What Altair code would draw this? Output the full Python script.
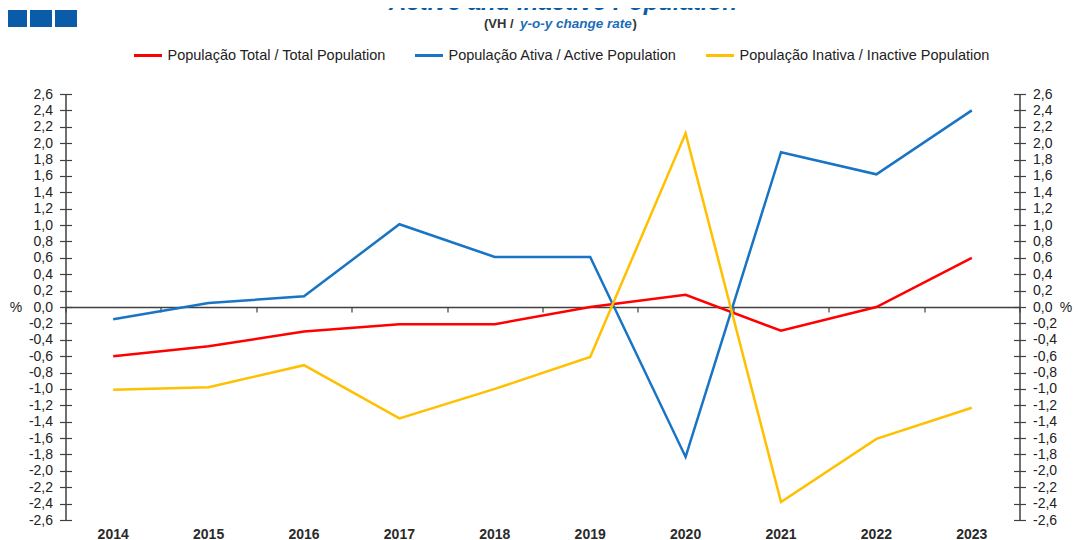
import altair as alt
import pandas as pd

# ---------------- data ----------------
years = ["2014", "2015", "2016", "2017", "2018", "2019", "2020", "2021", "2022", "2023"]
total_pop = [-0.60, -0.48, -0.30, -0.21, -0.21, 0.00, 0.15, -0.29, 0.00, 0.60]
active_pop = [-0.15, 0.05, 0.13, 1.01, 0.61, 0.61, -1.83, 1.89, 1.62, 2.40]
inactive_pop = [-1.01, -0.98, -0.71, -1.36, -1.00, -0.61, 2.12, -2.38, -1.61, -1.23]
series_names = [
    "População Total / Total Population",
    "População Ativa / Active Population",
    "População Inativa / Inactive Population",
]
series_colors = ["#ff0000", "#1874c4", "#ffc000"]
y_ticks = [2.6, 2.4, 2.2, 2.0, 1.8, 1.6, 1.4, 1.2, 1.0, 0.8, 0.6, 0.4, 0.2, 0.0,
           -0.2, -0.4, -0.6, -0.8, -1.0, -1.2, -1.4, -1.6, -1.8, -2.0, -2.2, -2.4, -2.6]
title_text = "Active and Inactive Population"
subtitle_parts = ["(VH /", "y-o-y change rate", ")"]

# ---------------- layout ----------------
W, H = 954, 426
PL, PT = 57.5, 86          # plot origin at page (65.5, 94)
FONT = "Liberation Sans"
AX = "#404040"
TXT = "#222222"
BLUE_T = "#0b5ca8"

rows = []
for name, vals in zip(series_names, [total_pop, active_pop, inactive_pop]):
    for yr, v in zip(years, vals):
        rows.append({"year": yr, "value": v, "series": name})
df = pd.DataFrame(rows)

label_expr = "replace(replace(format(datum.value, '.1f'), '.', ','), '\u2212', '-')"
x_scale = alt.Scale(type="band", domain=years, paddingInner=0, paddingOuter=0)
y_scale = alt.Scale(domain=[-2.6, 2.6], nice=False, zero=False)

TICK = 6
common_y = dict(values=y_ticks, grid=False, tickColor=AX, tickWidth=1.2, tickSize=TICK,
                domainColor=AX, domainWidth=1.5, labelFont=FONT, labelFontSize=14,
                labelColor=TXT, labelPadding=7, labelExpr=label_expr,
                titleAngle=0, titleFont=FONT, titleFontSize=14, titleFontWeight="normal",
                titleColor=TXT, titleAlign="center", titleBaseline="middle", titleY=H / 2)

lines = alt.Chart(df).mark_line(strokeWidth=2.5).encode(
    x=alt.X("year:O", scale=x_scale, sort=years,
            axis=alt.Axis(orient="bottom", domain=False, ticks=False, labelAngle=0,
                          labelFont=FONT, labelFontSize=14, labelFontWeight="bold",
                          labelColor="#2a2a2a", labelPadding=7, title=None, grid=False)),
    y=alt.Y("value:Q", scale=y_scale,
            axis=alt.Axis(orient="left", title="%", titleX=-50, **common_y)),
    color=alt.Color("series:N", sort=series_names,
                    scale=alt.Scale(domain=series_names, range=series_colors),
                    legend=alt.Legend(orient="none", legendX=67, legendY=-54,
                                      direction="horizontal", columns=3, title=None,
                                      symbolType="stroke", symbolSize=784,
                                      symbolStrokeWidth=3, labelFont=FONT,
                                      labelFontSize=14.5, labelColor=TXT, labelLimit=0,
                                      columnPadding=22, labelOffset=4)),
)

right_axis = alt.Chart(df).mark_line(opacity=0).encode(
    x=alt.X("year:O", scale=x_scale, sort=years,
            axis=alt.Axis(orient="bottom", offset=-H / 2, labels=False, tickBand="extent",
                          tickSize=5, tickColor=AX, tickWidth=1.2, domainColor=AX,
                          domainWidth=1.5, title=None, grid=False)),
    y=alt.Y("value:Q", scale=y_scale,
            axis=alt.Axis(orient="right", title="%", titleX=46, **common_y)),
    detail="series:N",
)

inner_left = alt.Chart(df).mark_line(opacity=0).encode(
    x=alt.X("year:O", scale=x_scale, sort=years, axis=None),
    y=alt.Y("value:Q", scale=y_scale,
            axis=alt.Axis(orient="right", offset=-W, values=y_ticks, labels=False,
                          domain=False, tickSize=TICK, tickColor=AX, tickWidth=1.2,
                          title=None, grid=False)),
    detail="series:N",
)

inner_right = alt.Chart(df).mark_line(opacity=0).encode(
    x=alt.X("year:O", scale=x_scale, sort=years, axis=None),
    y=alt.Y("value:Q", scale=y_scale,
            axis=alt.Axis(orient="left", offset=-W, values=y_ticks, labels=False,
                          domain=False, tickSize=TICK, tickColor=AX, tickWidth=1.2,
                          title=None, grid=False)),
    detail="series:N",
)

one = pd.DataFrame({"k": [0]})

title = alt.Chart(one).mark_text(
    font=FONT, fontSize=24, fontWeight="bold", fontStyle="italic", color=BLUE_T,
    align="center", baseline="alphabetic", text=title_text,
).encode(x=alt.value(563 - 65.5), y=alt.value(-84))

sub1 = alt.Chart(one).mark_text(
    font=FONT, fontSize=13, fontWeight="bold", color="#333333",
    align="left", baseline="middle", text=subtitle_parts[0],
).encode(x=alt.value(484 - 65.5), y=alt.value(24 - 94))

sub2 = alt.Chart(one).mark_text(
    font=FONT, fontSize=13.5, fontWeight="bold", fontStyle="italic", color="#1a6db8",
    align="left", baseline="middle", text=subtitle_parts[1],
).encode(x=alt.value(520 - 65.5), y=alt.value(24 - 94))

sub3 = alt.Chart(one).mark_text(
    font=FONT, fontSize=13, fontWeight="bold", color="#333333",
    align="left", baseline="middle", text=subtitle_parts[2],
).encode(x=alt.value(632.5 - 65.5), y=alt.value(24 - 94))

squares = []
for x0 in [5, 30, 55]:
    squares.append(
        alt.Chart(one).mark_rect(color="#0b5ca8").encode(
            x=alt.value(x0 - 65.5), x2=alt.value(x0 + 22 - 65.5),
            y=alt.value(10 - 94), y2=alt.value(27 - 94))
    )

chart = alt.layer(
    right_axis, inner_left, inner_right, lines, title, sub1, sub2, sub3, *squares
).resolve_axis(x="independent", y="independent").properties(
    width=W, height=H,
    padding={"left": PL, "top": PT, "right": 53, "bottom": 20},
    autosize=alt.AutoSizeParams(type="none"),
    background="white",
).configure_view(stroke=None)

chart.save("out.html", embed_options={"renderer": "svg", "actions": False})
